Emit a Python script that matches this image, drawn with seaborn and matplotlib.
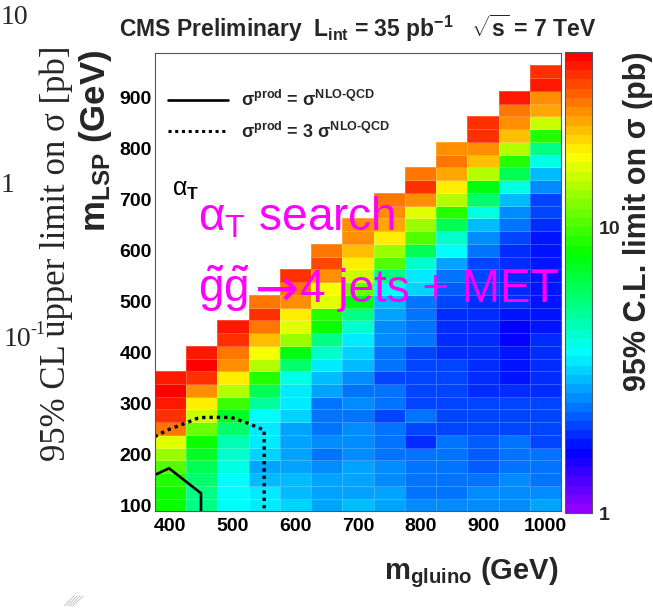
import colorsys
import numpy as np
import pandas as pd
import seaborn as sns
import matplotlib
matplotlib.use("Agg")
import matplotlib.pyplot as plt
from matplotlib.colors import ListedColormap, LogNorm
from matplotlib.lines import Line2D
from matplotlib.ticker import FixedLocator, MultipleLocator, NullFormatter

# ---------------- data ----------------
gluino_masses = [400, 450, 500, 550, 600, 650, 700, 750, 800, 850, 900, 950, 1000]
lsp_masses = [100, 125, 150, 175, 200, 225, 250, 275, 300, 325, 350, 375, 400, 425,
              450, 475, 500, 525, 550, 575, 600, 625, 650, 675, 700, 725, 750, 775,
              800, 825, 850, 875, 900, 925, 950]

# 95% C.L. limit on sigma (pb), one list per gluino mass, from m_LSP = 100 upward
limit_g400 = [8.5, 8.5, 9, 10, 13, 16.5, 27, 33, 38, 39, 36]
limit_g450 = [5.2, 5.3, 5.7, 6.2, 7, 8.5, 11, 14.5, 19.5, 25, 34, 39, 36]
limit_g500 = [3.6, 3.6, 3.7, 4.0, 4.3, 4.6, 5.7, 7, 9.5, 14, 19, 25, 27, 33, 36]
limit_g550 = [3.4, 3.3, 3.0, 2.8, 3.1, 3.3, 3.5, 3.8, 4.8, 6.3, 8.7, 14, 17, 22, 27, 34, 27]
limit_g600 = [3.1, 3.0, 2.9, 2.8, 2.7, 2.8, 2.8, 3.1, 3.3, 3.5, 4.1, 5.7, 8, 13, 16, 19,
              26, 27, 33]
limit_g650 = [2.8, 2.8, 2.7, 2.6, 2.4, 2.6, 2.4, 2.4, 2.4, 2.7, 3.0, 3.4, 4.2, 5.5, 8.5,
              9, 16, 18, 25, 32, 27]
limit_g700 = [2.9, 2.8, 2.8, 2.7, 2.6, 2.6, 2.5, 2.4, 2.5, 2.35, 2.6, 2.9, 3.1, 3.4, 4.2,
              5.3, 7.5, 11, 15, 18.5, 22.5, 25, 25]
limit_g750 = [2.8, 2.7, 2.6, 2.5, 2.4, 2.35, 2.3, 2.0, 2.3, 2.35, 2.05, 2.3, 2.35, 2.5,
              2.6, 2.7, 3.0, 3.6, 5.5, 10, 13, 18.5, 24, 26, 27]
limit_g800 = [2.6, 2.4, 2.35, 2.3, 2.3, 1.95, 2.05, 2.4, 2.05, 2.05, 2.05, 2.05, 2.05,
              2.3, 2.3, 2.3, 2.35, 3.1, 3.5, 4.3, 6.3, 10, 12.5, 16, 26, 34, 27]
limit_g850 = [2.6, 2.4, 2.4, 2.3, 2.3, 2.3, 2.0, 2.0, 2.0, 2.0, 2.0, 2.0, 1.9, 1.9, 1.9,
              1.95, 2.05, 2.2, 2.4, 2.8, 3.6, 4.3, 6, 9, 14, 19.5, 23, 27, 25]
limit_g900 = [2.5, 2.5, 2.35, 2.2, 2.2, 2.2, 2.0, 2.0, 2.0, 1.85, 1.85, 1.9, 1.9, 1.9,
              1.9, 1.9, 1.95, 2.1, 2.1, 2.1, 2.3, 2.6, 3.0, 4.1, 5.7, 8, 13.5, 22, 25,
              34, 33]
limit_g950 = [2.6, 2.5, 2.5, 2.3, 2.3, 2.3, 2.0, 2.0, 2.0, 1.85, 1.8, 1.8, 1.7, 1.65,
              1.65, 1.75, 1.9, 1.95, 1.95, 1.9, 1.95, 2.05, 2.3, 2.5, 3.0, 4.1, 6, 9,
              13.5, 22, 25, 27, 37]
limit_g1000 = [2.8, 2.5, 2.4, 2.3, 2.3, 2.0, 2.05, 2.0, 2.0, 1.85, 1.85, 1.85, 1.85,
               1.85, 1.7, 1.75, 1.8, 1.8, 1.75, 1.75, 1.75, 1.75, 1.85, 2.0, 2.1, 2.5,
               3.0, 4.1, 5.5, 9, 15.5, 23, 25, 37, 35]

limit_columns = [limit_g400, limit_g450, limit_g500, limit_g550, limit_g600, limit_g650,
                 limit_g700, limit_g750, limit_g800, limit_g850, limit_g900, limit_g950,
                 limit_g1000]

# exclusion contours
nlo_gluino = [375, 398, 449, 449]
nlo_lsp = [159, 172, 123, 87.5]
nlo3_gluino = [375, 395, 425, 443, 455, 497, 523, 550, 550]
nlo3_lsp = [234, 247, 261, 270, 272, 272, 261, 247, 87.5]

x_ticks = [400, 500, 600, 700, 800, 900, 1000]
y_ticks = [100, 200, 300, 400, 500, 600, 700, 800, 900]
cbar_ticks = [1, 10]
cbar_minor = [2, 3, 4, 5, 6, 7, 8, 9, 20, 30, 40]

records = []
for g, col in zip(gluino_masses, limit_columns):
    for m, v in zip(lsp_masses, col):
        records.append((g, m, v))
df = pd.DataFrame(records, columns=["m_gluino", "m_lsp", "limit"])

# ---------------- style ----------------
sns.set_theme(style="white")
plt.rcParams["font.family"] = ["Liberation Sans", "DejaVu Sans"]
plt.rcParams["font.weight"] = "bold"
plt.rcParams["axes.labelweight"] = "bold"
plt.rcParams["mathtext.fontset"] = "custom"
plt.rcParams["mathtext.rm"] = "Liberation Sans:bold"
plt.rcParams["mathtext.it"] = "Liberation Sans:bold"
plt.rcParams["mathtext.bf"] = "Liberation Sans:bold"
plt.rcParams["mathtext.sf"] = "Liberation Sans:weight=normal:style=normal"

# ROOT "pretty palette" (50 colours)
root_colors = [colorsys.hls_to_rgb((280 - (i + 1) * 280 / 50) / 360, 0.5, 1.0) for i in range(50)]
palette = ListedColormap(root_colors)

W, H = 653, 608
fig = plt.figure(figsize=(W / 100, H / 100), dpi=100)
ax = fig.add_axes([154.7 / W, 1 - 511.4 / H, 406.6 / W, 458.7 / H])
cax = fig.add_axes([565 / W, 1 - 513.3 / H, 26.7 / W, 461.6 / H])

sns.histplot(data=df, x="m_gluino", y="m_lsp", weights="limit",
             binwidth=(50, 25), binrange=((375, 1025), (87.5, 987.5)),
             cmap=palette, cbar=False, ax=ax)
mesh = ax.collections[0]
mesh.set_norm(LogNorm(vmin=1, vmax=41))
# faint cell borders only around filled cells
cell_mask = np.ma.getmaskarray(mesh.get_array()).ravel()
edge_cols = np.zeros((cell_mask.size, 4))
edge_cols[:, :3] = 1.0
edge_cols[~cell_mask, 3] = 0.22
mesh.set_edgecolor(edge_cols)
mesh.set_linewidth(0.5)

ax.plot(nlo_gluino, nlo_lsp, color="black", lw=1.9, solid_joinstyle="miter")
ax.plot(nlo3_gluino, nlo3_lsp, color="black", lw=2.4, linestyle=(0, (1, 1.2)),
        dash_capstyle="butt")

ax.set_xlim(375, 1025)
ax.set_ylim(87.5, 987.5)
ax.set_xticks(x_ticks)
ax.set_yticks(y_ticks)
ax.xaxis.set_minor_locator(MultipleLocator(20))
ax.yaxis.set_minor_locator(MultipleLocator(20))
ax.tick_params(which="both", direction="in", top=False, right=False, color="#222",
               width=0.8, labelsize=14, labelcolor="black")
ax.tick_params(which="major", length=9.2)
ax.tick_params(which="minor", length=4.8)
ax.tick_params(axis="x", pad=5)
ax.tick_params(axis="y", pad=2)
for s in ax.spines.values():
    s.set_color("#555")
    s.set_linewidth(0.8)

ax.set_xlabel(r"m$_{\mathbf{gluino}}$ (GeV)", fontsize=21, loc="right")
ax.xaxis.set_label_coords(0.992, -0.095)
ax.set_ylabel(r"m$_{\mathbf{LSP}}$ (GeV)", fontsize=25, loc="top")
ax.yaxis.set_label_coords(-0.1, 1.006)

# legend
handles = [Line2D([], [], color="black", lw=1.9),
           Line2D([], [], color="black", lw=2.2, linestyle=(0, (1, 1.2)))]
labels = [r"σ$^{\mathrm{prod}}$ = σ$^{\mathrm{NLO\text{-}QCD}}$",
          r"σ$^{\mathrm{prod}}$ = 3 σ$^{\mathrm{NLO\text{-}QCD}}$"]
ax.legend(handles, labels, loc="upper left", bbox_to_anchor=(0.0327, 0.918),
          frameon=False, fontsize=13, handlelength=3.3, handletextpad=0.75,
          labelspacing=0.62, borderpad=0, borderaxespad=0)

# colorbar
cb = fig.colorbar(mesh, cax=cax)
cb.set_ticks(cbar_ticks)
cb.set_ticklabels([str(t) for t in cbar_ticks])
cax.yaxis.set_minor_locator(FixedLocator(cbar_minor))
cax.yaxis.set_minor_formatter(NullFormatter())
cax.tick_params(which="both", direction="in", right=True, left=False, color="#222",
                width=0.8, labelsize=14, pad=5)
cax.tick_params(which="major", length=8)
cax.tick_params(which="minor", length=4.5)
cb.outline.set_linewidth(0.8)
cb.outline.set_edgecolor("#555")
cb.set_label("95% C.L. limit on σ (pb)", fontsize=22, loc="top")
cax.yaxis.set_label_coords(2.18, 1.0)

# title and annotations
fig.text(358 / W, 1 - 28 / H,
         r"CMS Preliminary  L$_{\mathbf{int}}$ = 35 pb$^{\mathbf{-1}}$   $\sqrt{\mathbf{s}}$ = 7 TeV",
         ha="center", va="center", fontsize=16.5, fontweight="bold")
fig.text(172 / W, 1 - 196 / H, r"α$_{\mathbf{T}}$", fontsize=18, fontweight="normal",
         va="baseline", ha="left", color="black")
magenta = "#ff00ff"
fig.text(198 / W, 1 - 230 / H, r"α$_{\mathsf{T}}$ search", fontsize=33,
         fontweight="normal", color=magenta, va="baseline", ha="left")
fig.text(198 / W, 1 - 302 / H, r"$\tilde{\mathsf{g}}\tilde{\mathsf{g}}$",
         fontsize=33, fontweight="normal", color=magenta, va="baseline", ha="left")
fig.text(277 / W, 1 - 305 / H, "→", family=["DejaVu Sans"], fontsize=38,
         fontweight="normal", color=magenta, va="baseline", ha="center")
fig.text(300 / W, 1 - 302 / H, "4 jets + MET",
         fontsize=33, fontweight="normal", color=magenta, va="baseline", ha="left")

# remnants of neighbouring figure at left edge
serif = ["Liberation Serif", "DejaVu Serif"]
fig.text(1 / W, 1 - 17 / H, "10", family=serif, fontsize=20, fontweight="normal",
         ha="left", va="center")
fig.text(1 / W, 1 - 185 / H, "1", family=serif, fontsize=20, fontweight="normal",
         ha="left", va="center")
fig.text(4 / W, 1 - 340 / H, "10", family=serif, fontsize=20, fontweight="normal",
         ha="left", va="center")
fig.text(30 / W, 1 - 330 / H, "-1", family=serif, fontsize=13, fontweight="normal",
         ha="left", va="center")
fig.text(56 / W, 1 - 253 / H, "95% CL upper limit on σ [pb]", family=serif, fontsize=25,
         fontweight="normal", rotation=90, ha="center", va="center")
for k in range(4):
    x0 = (64 + 3 * k) / W
    fig.add_artist(Line2D([x0, x0 + 10 / W], [2 / H, 12 / H],
                          color="#bbbbbb", lw=0.6, transform=fig.transFigure))

fig.savefig("out.png", dpi=100)
